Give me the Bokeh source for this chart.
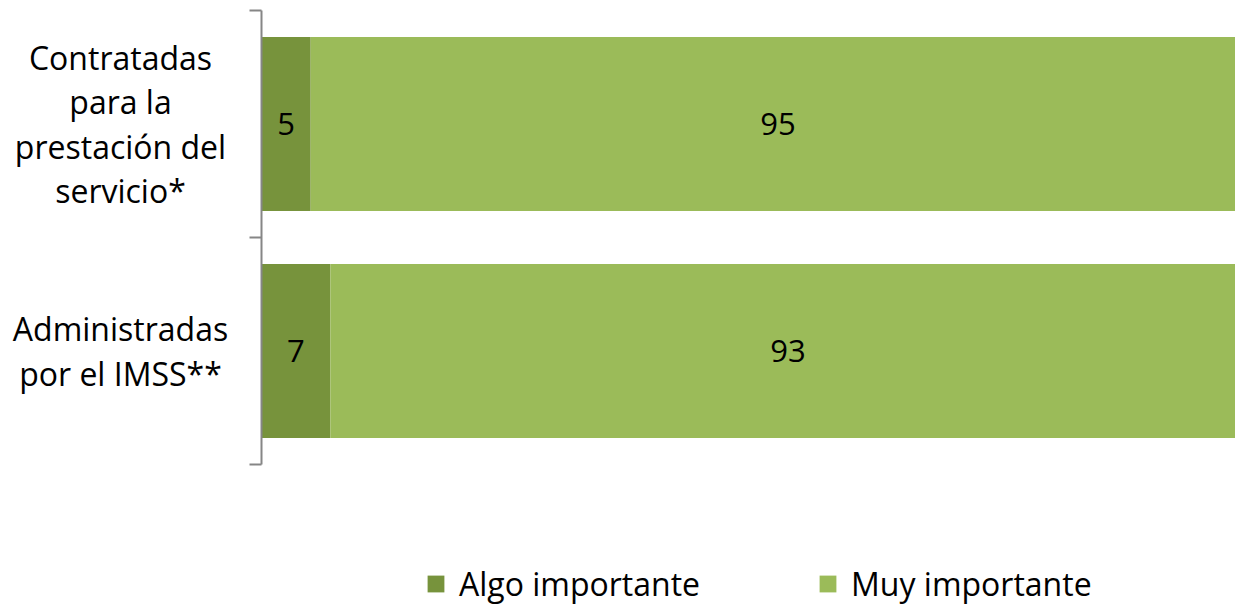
from bokeh.plotting import figure
from bokeh.models import ColumnDataSource, Range1d, Legend, LegendItem
from bokeh.core.properties import value
from bokeh.embed import file_html
from bokeh.resources import INLINE

categories = ["Administradas\npor el IMSS**", "Contratadas\npara la\nprestación del\nservicio*"]
algo = [7, 5]
muy = [93, 95]
series_names = ["Algo importante", "Muy importante"]
colors = ["#77933C", "#9BBB59"]

FONT = "Open Sans"
W, H = 1235, 605
AXIS_PX = 261          # screen x of the value axis (value 0)
PX_PER_UNIT = 9.84     # pixels per percentage point (bars run past the right edge)
BAND_PX = 227          # pixels per category band
TOP_PX = 10            # gap above the first band
LABEL_CX = 120         # screen x of the centre of the category labels

n = len(categories)
ypos = [i + 0.5 for i in range(n)]
src = ColumnDataSource(dict(
    y=ypos,
    cat=categories,
    algo_end=algo,
    muy_end=[a + m for a, m in zip(algo, muy)],
    algo_mid=[a / 2 for a in algo],
    muy_mid=[a + m / 2 for a, m in zip(algo, muy)],
    algo_txt=[str(a) for a in algo],
    muy_txt=[str(m) for m in muy],
))

x_start = -AXIS_PX / PX_PER_UNIT
x_end = (W - AXIS_PX) / PX_PER_UNIT
y_end = n + TOP_PX / BAND_PX
y_start = y_end - H / BAND_PX

p = figure(width=W, height=H, output_backend="svg", toolbar_location=None,
           x_range=Range1d(x_start, x_end), y_range=Range1d(y_start, y_end),
           min_border=0)
p.outline_line_color = None
p.grid.visible = False
p.axis.visible = False
p.background_fill_color = "white"
p.border_fill_color = "white"

r1 = p.hbar(y="y", left=0, right="algo_end", height=0.766, source=src,
            fill_color=colors[0], line_color=None)
r2 = p.hbar(y="y", left="algo_end", right="muy_end", height=0.766, source=src,
            fill_color=colors[1], line_color=None)

for col, txt in (("algo_mid", "algo_txt"), ("muy_mid", "muy_txt")):
    p.text(x=col, y="y", text=txt, source=src, text_align="center",
           text_baseline="middle", text_font=value(FONT), text_font_size="31px",
           text_color="black")

# category axis: line, boundary ticks, centred multi-line labels
tick_len = 12 / PX_PER_UNIT
bounds = list(range(n + 1))
p.segment(x0=[0], y0=[0], x1=[0], y1=[n], line_color="#868686", line_width=2)
p.segment(x0=[-tick_len] * len(bounds), y0=bounds, x1=[0] * len(bounds), y1=bounds,
          line_color="#868686", line_width=2)
p.text(x=x_start + LABEL_CX / PX_PER_UNIT, y="y", text="cat", source=src,
       text_align="center", text_baseline="middle", text_font=value(FONT),
       text_font_size="32px", text_color="black", text_line_height=1.03)

legend = Legend(items=[LegendItem(label=series_names[0], renderers=[r1]),
                       LegendItem(label=series_names[1], renderers=[r2])],
                orientation="horizontal", location=(425, 0), margin=0,
                label_text_font=FONT, label_text_font_size="32px",
                label_text_color="black",
                glyph_width=21, glyph_height=21, spacing=117, padding=0,
                border_line_color=None, background_fill_alpha=0, label_standoff=13)
p.add_layout(legend, "center")

open("out.html", "w").write(file_html(p, INLINE))
